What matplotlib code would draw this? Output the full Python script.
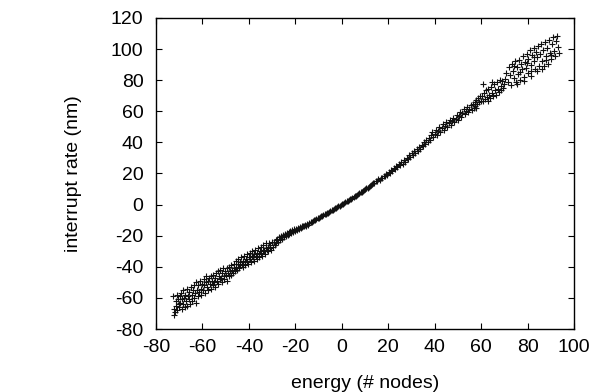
import matplotlib
matplotlib.use("Agg")
import matplotlib.pyplot as plt

plt.rcParams['font.family'] = ['Liberation Sans', 'DejaVu Sans']
plt.rcParams['axes.unicode_minus'] = False

# points, grouped by energy range
low_tail = [
    (-72.5, -59), (-72.3, -67), (-72.1, -71), (-71.8, -69), (-71.5, -62), (-71.2, -65),
    (-71.0, -58), (-70.8, -68), (-70.5, -61), (-70.2, -64), (-70.0, -66), (-69.7, -59),
    (-69.5, -63), (-69.2, -57), (-69.0, -67), (-68.7, -61), (-68.4, -64), (-68.2, -55),
    (-67.9, -60), (-67.6, -66), (-67.3, -58), (-67.0, -62), (-66.8, -54), (-66.5, -65),
    (-66.2, -59), (-65.9, -56), (-65.6, -61), (-65.3, -64), (-65.0, -53), (-64.7, -58),
    (-64.4, -62), (-64.1, -55), (-63.8, -60), (-63.5, -52), (-63.2, -57), (-62.9, -63),
    (-62.6, -50), (-62.3, -55), (-62.0, -59), (-61.7, -52), (-61.4, -56), (-61.1, -49),
    (-60.8, -54), (-60.5, -58), (-60.2, -51),
]
low_mid = [
    (-59.8, -55), (-59.5, -48), (-59.2, -52), (-58.9, -57), (-58.6, -50), (-58.3, -46),
    (-58.0, -53), (-57.7, -49), (-57.4, -55), (-57.1, -47), (-56.8, -51), (-56.5, -54),
    (-56.2, -46), (-55.9, -49), (-55.6, -52), (-55.3, -45), (-55.0, -50), (-54.7, -53),
    (-54.4, -47), (-54.1, -44), (-53.8, -49), (-53.5, -51), (-53.2, -43), (-52.9, -46),
    (-52.6, -48), (-52.3, -42), (-52.0, -47), (-51.7, -50), (-51.4, -44), (-51.1, -41),
    (-50.8, -46), (-50.5, -48), (-50.2, -43), (-49.9, -45), (-49.6, -49), (-49.3, -41),
    (-49.0, -44), (-48.7, -46), (-48.4, -40), (-48.1, -43), (-47.8, -45), (-47.5, -39),
    (-47.2, -42), (-46.9, -44), (-46.6, -38), (-46.3, -41), (-46.0, -43), (-45.7, -36),
    (-45.4, -40), (-45.1, -42),
    (-44.8, -38), (-44.5, -35), (-44.2, -41), (-43.9, -37), (-43.6, -39), (-43.3, -34),
    (-43.0, -38), (-42.7, -40), (-42.4, -36), (-42.1, -33), (-41.8, -37), (-41.5, -39),
    (-41.2, -35), (-40.9, -32), (-40.6, -36), (-40.3, -38), (-40.0, -34), (-39.7, -31),
    (-39.4, -35), (-39.1, -37), (-38.8, -33), (-38.5, -30), (-38.2, -34), (-37.9, -36),
    (-37.6, -32), (-37.3, -29), (-37.0, -33), (-36.7, -35), (-36.4, -31), (-36.1, -28),
    (-35.8, -32), (-35.5, -34), (-35.2, -30), (-34.9, -27), (-34.6, -31), (-34.3, -33),
    (-34.0, -29), (-33.7, -26), (-33.4, -30), (-33.1, -32), (-32.8, -28), (-32.5, -25),
    (-32.2, -29), (-31.9, -27), (-31.6, -30), (-31.3, -25), (-31.0, -28), (-30.7, -26),
    (-30.4, -29), (-30.1, -24),
]
core = [
    (-29.7, -27), (-29.3, -24), (-28.9, -26), (-28.5, -23), (-28.1, -25), (-27.7, -22),
    (-27.3, -24), (-26.9, -21), (-26.5, -23), (-26.1, -20), (-25.7, -22), (-25.3, -19.5),
    (-24.9, -21), (-24.5, -19), (-24.1, -20.5), (-23.7, -18), (-23.3, -19.5), (-22.9, -17.5),
    (-22.5, -19), (-22.1, -17), (-21.7, -18), (-21.3, -16.5), (-20.9, -17.5), (-20.5, -16),
    (-20.1, -17), (-19.7, -15.5), (-19.3, -16.5), (-18.9, -15), (-18.5, -15.5), (-18.1, -14.5),
    (-17.7, -15), (-17.3, -14), (-16.9, -14.5), (-16.5, -13.5), (-16.1, -14), (-15.7, -13),
    (-15.3, -13.5),
    (-14.9, -12.5), (-14.4, -12.8), (-13.9, -11.8), (-13.4, -11.5), (-12.9, -11.0),
    (-12.4, -10.5), (-11.9, -10.2), (-11.4, -9.6), (-10.9, -9.4), (-10.4, -8.8),
    (-9.9, -8.5), (-9.4, -7.9), (-8.9, -7.6), (-8.4, -7.1), (-7.9, -6.8), (-7.4, -6.2),
    (-6.9, -5.9), (-6.4, -5.4), (-5.9, -5.1), (-5.4, -4.6), (-4.9, -4.2), (-4.4, -3.7),
    (-3.9, -3.4), (-3.4, -2.8), (-2.9, -2.5), (-2.4, -2.0), (-1.9, -1.6), (-1.4, -1.1),
    (-0.9, -0.8), (-0.4, -0.3), (0.1, 0.1), (0.6, 0.6), (1.1, 1.0), (1.6, 1.5),
    (2.1, 2.0), (2.6, 2.4), (3.1, 2.9), (3.6, 3.5), (4.1, 3.9), (4.6, 4.4),
    (5.1, 4.9), (5.6, 5.4), (6.1, 5.8), (6.6, 6.4), (7.1, 6.8), (7.6, 7.4),
    (8.1, 7.8), (8.6, 8.4), (9.1, 8.8), (9.6, 9.4), (10.1, 9.8), (10.6, 10.5),
    (11.1, 10.9), (11.6, 11.6), (12.1, 11.9), (12.6, 12.7), (13.1, 13.0), (13.6, 13.8),
    (14.1, 14.1), (14.6, 14.9),
    (15.2, 15.4), (15.8, 16.5), (16.3, 16.0), (16.9, 17.4), (17.4, 17.0), (18.0, 18.6),
    (18.5, 18.1), (19.1, 19.9), (19.6, 19.3), (20.2, 21.1), (20.7, 20.5), (21.3, 22.4),
    (21.8, 21.7), (22.4, 23.6), (22.9, 22.8), (23.5, 25.0), (24.0, 24.1), (24.6, 26.3),
    (25.1, 25.2), (25.7, 27.5), (26.2, 26.4), (26.8, 28.8), (27.3, 27.6), (27.9, 30.0),
    (28.4, 29.4), (29.0, 31.8), (29.5, 30.6), (30.1, 33.2), (30.6, 31.9), (31.2, 34.6),
    (31.7, 33.2), (32.3, 35.9), (32.8, 34.5), (33.4, 37.3), (33.9, 35.8), (34.5, 38.5),
]
high_mid = [
    (35.0, 38.0), (35.5, 40.4), (36.0, 39.0), (36.5, 41.8), (37.0, 40.1), (37.5, 43.0),
    (38.0, 41.5), (38.5, 44.6), (39.0, 46.5), (39.5, 43.3), (40.0, 45.6), (40.5, 48.2),
    (41.0, 44.8), (41.5, 47.1), (42.0, 50.0), (42.5, 46.7), (43.0, 49.3), (43.5, 51.6),
    (44.0, 48.2), (44.5, 50.6), (45.0, 53.0), (45.5, 49.8), (46.0, 52.2), (46.5, 54.6),
    (47.0, 51.3), (47.5, 53.7), (48.0, 56.0), (48.5, 52.9), (49.0, 55.1), (49.5, 57.7),
    (50.0, 54.6), (50.5, 56.9), (51.0, 59.5), (51.5, 56.3), (52.0, 58.6), (52.5, 61.2),
    (53.0, 58.0), (53.5, 60.3), (54.0, 62.7), (54.5, 59.4), (55.0, 61.6), (55.5, 64.0),
    (56.0, 60.6), (56.4, 64.5), (56.8, 62.0), (57.2, 66.0), (57.6, 63.2), (58.0, 67.2),
    (58.4, 64.5), (58.8, 68.6), (59.2, 65.8), (59.6, 70.0), (60.0, 66.9), (60.4, 70.1),
    (60.8, 66.5), (61.2, 71.8), (61.6, 67.6), (62.0, 73.5), (62.4, 69.1), (62.8, 66.8),
    (63.2, 74.2), (63.6, 70.5), (64.0, 68.3), (64.4, 75.8), (64.8, 72.0), (65.2, 69.6),
    (65.6, 77.3), (66.0, 73.4), (66.4, 70.8), (66.8, 78.9), (67.2, 74.6), (67.6, 72.2),
    (68.0, 80.1), (68.4, 76.0), (68.8, 73.5), (69.2, 79.2), (69.6, 75.0), (70.0, 77.4),
    (61.0, 77.5), (64.6, 79.0), (58.0, 62.0),
]
high_tail = [
    (70.2, 80.5), (70.8, 84.9), (71.4, 79.1), (71.9, 88.2), (72.3, 83.6), (72.9, 76.8),
    (73.3, 90.4), (73.7, 86.1), (74.2, 81.7), (74.6, 92.3), (75.0, 78.9), (75.4, 88.6),
    (75.9, 84.0), (76.3, 93.1), (76.7, 80.2), (77.1, 90.5), (77.5, 86.9), (77.9, 95.4),
    (78.3, 82.3), (78.8, 92.0), (79.2, 88.1), (79.6, 97.0), (80.0, 84.6), (80.4, 93.8),
    (80.9, 99.1), (81.3, 89.9), (81.7, 86.2), (82.1, 96.5), (82.6, 100.4), (83.0, 92.1),
    (83.4, 87.3), (83.8, 98.2), (84.3, 94.6), (84.7, 101.7), (85.1, 89.0), (85.5, 96.8),
    (86.0, 103.2), (86.4, 92.4), (86.8, 99.4), (87.2, 88.9), (87.7, 104.5), (88.1, 95.3),
    (88.5, 101.0), (88.9, 90.6), (89.4, 106.1), (89.8, 97.7), (90.2, 93.4), (90.6, 103.3),
    (91.0, 107.6), (91.5, 99.0), (91.9, 95.6), (92.3, 105.2), (92.8, 108.4), (93.2, 101.4),
    (93.6, 97.2), (78.6, 79.8), (81.5, 83.0), (84.0, 86.0), (86.2, 87.5), (75.6, 77.3),
    (90.0, 96.0), (88.0, 92.8), (82.8, 94.8), (79.9, 91.0), (76.9, 85.5), (74.0, 88.9),
]

points = low_tail + low_mid + core + high_mid + high_tail
energy = [p[0] for p in points]
rate = [p[1] for p in points]

x_ticks = list(range(-80, 101, 20))
y_ticks = list(range(-80, 121, 20))

fig = plt.figure(figsize=(5.96, 3.92), dpi=100)
ax = fig.add_axes([0.2617, 0.1607, 0.7013, 0.7934])

ax.plot(energy, rate, linestyle='none', marker='+', markersize=4.5,
        markeredgewidth=0.8, color='#111111')

ax.set_xlim(-80, 100)
ax.set_ylim(-80, 120)
ax.set_xticks(x_ticks)
ax.set_yticks(y_ticks)
ax.tick_params(direction='in', top=True, right=True, length=4, width=0.8,
               labelsize=14)
ax.tick_params(axis='x', pad=7)
ax.tick_params(axis='y', pad=9)
for s in ax.spines.values():
    s.set_linewidth(1.0)

ax.set_xlabel('energy (# nodes)', fontsize=14, labelpad=14)
ax.set_ylabel('interrupt rate (nm)', fontsize=14, labelpad=21)

fig.savefig('out.png', dpi=100)
